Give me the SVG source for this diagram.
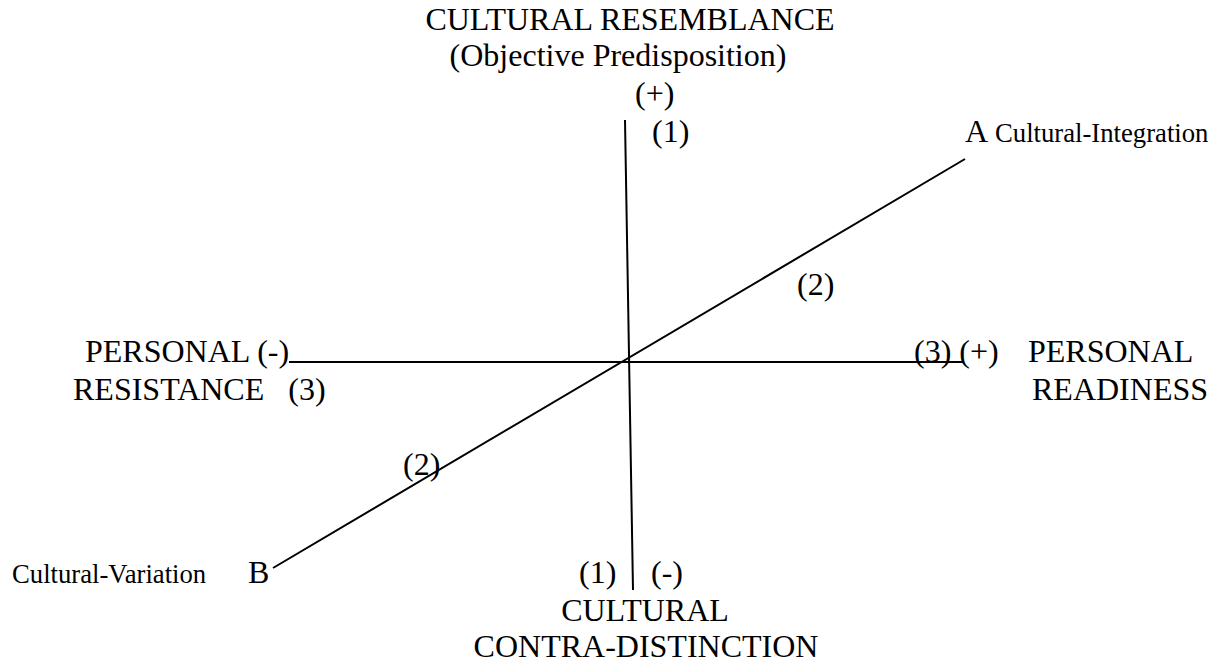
<svg xmlns="http://www.w3.org/2000/svg" width="1212" height="662" viewBox="0 0 1212 662">
<style>
text{font-family:"Liberation Serif","Times New Roman",serif;fill:#000;white-space:pre}
.l{font-size:32px}
.s{font-size:26.7px}
.ax{stroke:#000;stroke-width:2;fill:none}
</style>
<rect width="1212" height="662" fill="#fff"/>
<g id="connectors">
<line class="ax" x1="625" y1="120" x2="633" y2="590"/>
<line class="ax" x1="289" y1="362" x2="963" y2="362"/>
<line class="ax" x1="965" y1="159" x2="273" y2="568"/>
</g>
<g id="top">
<text class="l" x="630" y="30" text-anchor="middle">CULTURAL RESEMBLANCE</text>
<text class="l" x="618" y="66" text-anchor="middle">(Objective Predisposition)</text>
<text class="l" x="635" y="104">(+)</text>
<text class="l" x="652" y="142">(1)</text>
</g>
<g id="nodeA">
<text class="l" x="965" y="142">A</text>
<text class="s" x="995" y="142">Cultural-Integration</text>
</g>
<g id="upper2"><text class="l" x="797" y="295">(2)</text></g>
<g id="left">
<text class="l" x="85" y="362">PERSONAL (-)</text>
<text class="l" x="73" y="400">RESISTANCE   (3)</text>
</g>
<g id="right">
<text class="l" x="914" y="362">(3) (+)</text>
<text class="l" x="1028" y="362">PERSONAL</text>
<text class="l" x="1032" y="400">READINESS</text>
</g>
<g id="lower2"><text class="l" x="403" y="475">(2)</text></g>
<g id="nodeB">
<text class="s" x="12" y="583">Cultural-Variation</text>
<text class="l" x="248" y="583">B</text>
</g>
<g id="bottom">
<text class="l" x="579" y="583">(1)</text>
<text class="l" x="651" y="583">(-)</text>
<text class="l" x="645" y="621" text-anchor="middle">CULTURAL</text>
<text class="l" x="646" y="657" text-anchor="middle">CONTRA-DISTINCTION</text>
</g>
</svg>
